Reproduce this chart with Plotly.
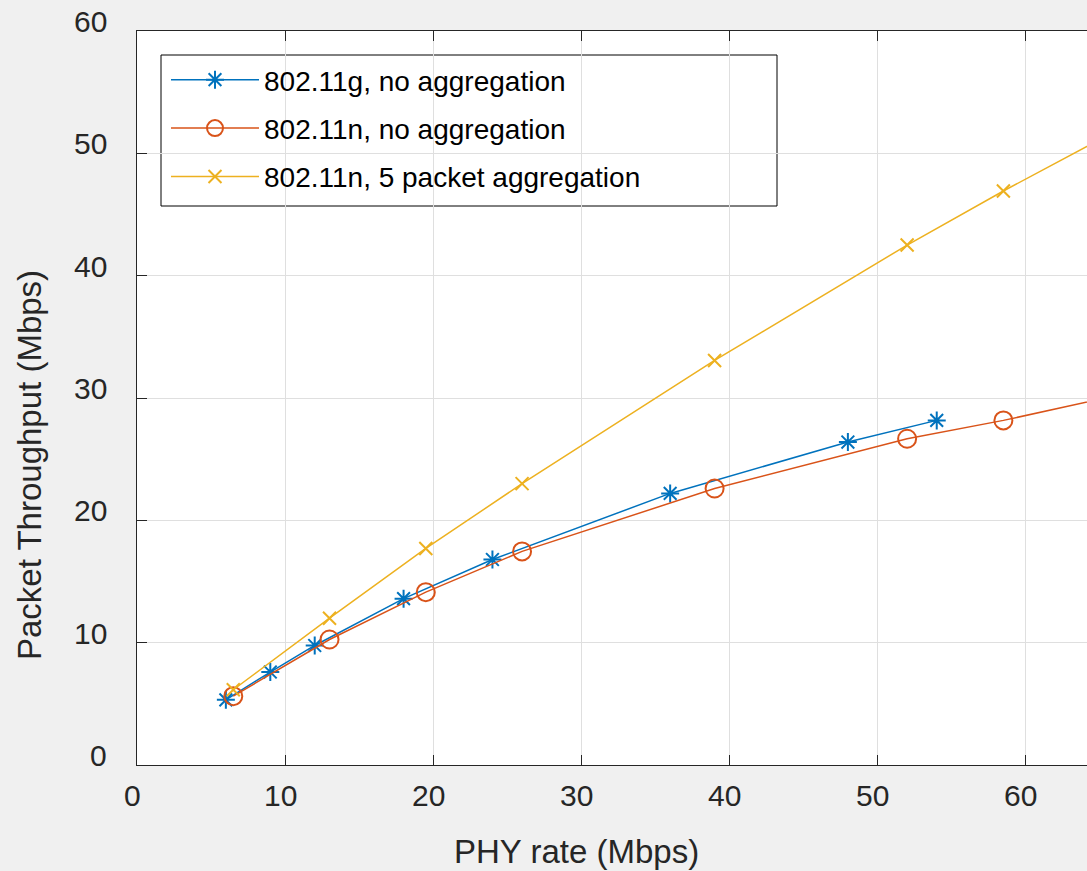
import plotly.graph_objects as go

# ---- data ----
rate_g = [6, 9, 12, 18, 24, 36, 48, 54]
thr_g = [5.33, 7.6, 9.77, 13.6, 16.8, 22.2, 26.4, 28.17]

rate_n = [6.5, 13, 19.5, 26, 39, 52, 58.5, 65]
thr_n_noagg = [5.63, 10.26, 14.13, 17.46, 22.6, 26.67, 28.17, 29.9]
thr_n_agg5 = [6.15, 12.0, 17.7, 23.0, 33.07, 42.5, 46.92, 51.13]

names = ["802.11g, no aggregation", "802.11n, no aggregation", "802.11n, 5 packet aggregation"]

x_ticks = [0, 10, 20, 30, 40, 50, 60]
y_ticks = [0, 10, 20, 30, 40, 50, 60]
x_title = "PHY rate (Mbps)"
y_title = "Packet Throughput (Mbps)"

# ---- style ----
FONT = "Liberation Sans, Arial, Helvetica, sans-serif"
AX = "#262626"
W, H = 1087, 871
ML, MT, MB, MR = 137, 31, 106, 0
PW = W - ML - MR
PH = H - MT - MB


def px_x(px):
    return (px - ML) / PW


def px_y(py):
    return (H - MB - py) / PH


fig = go.Figure()
fig.add_trace(go.Scatter(
    x=rate_g, y=thr_g, name=names[0], mode="lines+markers", legendgroup="a",
    line=dict(color="#0072BD", width=1.5),
    marker=dict(symbol="asterisk-open", size=15, line=dict(color="#0072BD", width=2)),
))
fig.add_trace(go.Scatter(
    x=rate_n, y=thr_n_noagg, name=names[1], mode="lines+markers", legendgroup="b",
    line=dict(color="#D95319", width=1.5),
    marker=dict(symbol="circle-open", size=18, color="#D95319", line=dict(color="#D95319", width=2)),
))
fig.add_trace(go.Scatter(
    x=rate_n, y=thr_n_agg5, name=names[2], mode="lines+markers", legendgroup="c",
    line=dict(color="#EDB120", width=1.5),
    marker=dict(symbol="x-thin-open", size=13, line=dict(color="#EDB120", width=2)),
))

xmax = PW / 14.81

annotations = []
for v in y_ticks:
    annotations.append(dict(x=0, xref="paper", y=v, yref="y", text=str(v), showarrow=False,
                            xanchor="right", yanchor="middle", xshift=-28, yshift=9.5,
                            font=dict(family=FONT, size=30, color=AX)))
for v in x_ticks:
    annotations.append(dict(x=v, xref="x", y=0, yref="paper", text=str(v), showarrow=False,
                            xanchor="center", yanchor="middle", xshift=-5, yshift=-30,
                            font=dict(family=FONT, size=30, color=AX)))
annotations.append(dict(x=px_x(576), xref="paper", y=0, yref="paper", text=x_title,
                        showarrow=False, xanchor="center", yanchor="middle", yshift=-86,
                        font=dict(family=FONT, size=33, color=AX)))
annotations.append(dict(x=0, xref="paper", y=px_y(465), yref="paper", text=y_title,
                        showarrow=False, xanchor="center", yanchor="middle", xshift=30 - ML,
                        textangle=-90, font=dict(family=FONT, size=33, color=AX)))

# legend frame
shapes = [dict(type="rect", xref="paper", yref="paper",
               x0=px_x(161), x1=px_x(777), y0=px_y(206), y1=px_y(55),
               fillcolor="white", line=dict(color="#000000", width=1), layer="between")]

fig.update_layout(
    width=W, height=H,
    margin=dict(l=ML, r=MR, t=MT, b=MB, pad=0),
    paper_bgcolor="#f0f0f0", plot_bgcolor="white",
    font=dict(family=FONT, color=AX),
    showlegend=True,
    legend=dict(
        x=px_x(166), y=px_y(55), xanchor="left", yanchor="top",
        bgcolor="rgba(0,0,0,0)", borderwidth=0,
        font=dict(family=FONT, size=28, color="black"),
        tracegroupgap=9, itemwidth=88, traceorder="grouped",
    ),
    xaxis=dict(
        range=[0, xmax], tickvals=x_ticks, showticklabels=False,
        ticks="inside", ticklen=10, tickwidth=1.3, tickcolor=AX,
        showline=True, linecolor=AX, linewidth=1.3, mirror="ticks",
        showgrid=True, gridcolor="#dfdfdf", gridwidth=1, zeroline=False,
    ),
    yaxis=dict(
        range=[0, 60], tickvals=y_ticks, showticklabels=False,
        ticks="inside", ticklen=10, tickwidth=1.3, tickcolor=AX,
        showline=True, linecolor=AX, linewidth=1.3, mirror=False,
        showgrid=True, gridcolor="#dfdfdf", gridwidth=1, zeroline=False,
    ),
    shapes=shapes,
    annotations=annotations,
)

fig.write_html("out.html")
